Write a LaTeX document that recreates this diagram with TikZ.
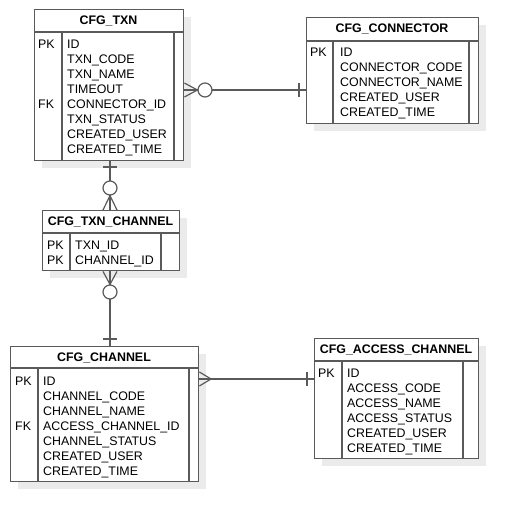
\documentclass[tikz,border=0pt]{standalone}
\usepackage{fontspec}
\setmainfont{Liberation Sans}
\usetikzlibrary{shadows}
\definecolor{linegray}{HTML}{5A5A5A}
\definecolor{shadowgray}{HTML}{EBEBEB}

\begin{document}
\begin{tikzpicture}[x=1pt, y=-1pt,
                    font=\fontsize{12.4}{15}\selectfont,
                    table/.style={draw=linegray, line width=1.4pt, fill=white, anchor=north west, inner sep=0pt,
                        drop shadow={shadow xshift=7pt, shadow yshift=-7pt, fill=shadowgray, opacity=1}},
                    rule/.style={draw=linegray, line width=1.4pt},
                    title/.style={font=\fontsize{12.4}{15}\selectfont\bfseries, anchor=base, inner sep=0pt},
                    cols/.style={align=left, anchor=north west, inner sep=0pt},
                    link/.style={draw=linegray, line width=1.2pt},
                    ring/.style={circle, draw=linegray, line width=1.2pt, fill=white, minimum size=14pt, inner sep=0pt}
                ]
    \useasboundingbox (0,0) rectangle (518,521);

    % CFG_TXN
    \node[table, minimum width=149pt, minimum height=151pt] (txn) at (34,9) {};
    \draw[rule] (34,32) -- (183,32) (62,32) -- (62,160) (174,32) -- (174,160);
    \node[title] (txn title) at (108.5,24.3) {CFG\_TXN};
    \node[cols] (txn keys) at (38,39.7) {PK\\~\\~\\~\\FK};
    \node[cols] (txn fields) at (67,39.7) {ID\\TXN\_CODE\\TXN\_NAME\\TIMEOUT\\CONNECTOR\_ID\\TXN\_STATUS\\CREATED\_USER\\CREATED\_TIME};

    % CFG_CONNECTOR
    \node[table, minimum width=172pt, minimum height=106pt] (connector) at (306,17) {};
    \draw[rule] (306,41) -- (478,41) (333,41) -- (333,123) (469,41) -- (469,123);
    \node[title] (connector title) at (392,33) {CFG\_CONNECTOR};
    \node[cols] (connector keys) at (310,48.1) {PK};
    \node[cols] (connector fields) at (340,48.1) {ID\\CONNECTOR\_CODE\\CONNECTOR\_NAME\\CREATED\_USER\\CREATED\_TIME};

    % CFG_TXN_CHANNEL
    \node[table, minimum width=137pt, minimum height=60pt] (txnchannel) at (42,210) {};
    \draw[rule] (42,233) -- (179,233) (70,233) -- (70,270) (161,233) -- (161,270);
    \node[title] (txnchannel title) at (110.5,225) {CFG\_TXN\_CHANNEL};
    \node[cols] (txnchannel keys) at (47,241.1) {PK\\PK};
    \node[cols] (txnchannel fields) at (75,241.1) {TXN\_ID\\CHANNEL\_ID};

    % CFG_CHANNEL
    \node[table, minimum width=188pt, minimum height=135pt] (channel) at (10,346) {};
    \draw[rule] (10,368) -- (198,368) (38,368) -- (38,481) (189,368) -- (189,481);
    \node[title] (channel title) at (104,361) {CFG\_CHANNEL};
    \node[cols] (channel keys) at (15,376.4) {PK\\~\\~\\FK};
    \node[cols] (channel fields) at (43,376.4) {ID\\CHANNEL\_CODE\\CHANNEL\_NAME\\ACCESS\_CHANNEL\_ID\\CHANNEL\_STATUS\\CREATED\_USER\\CREATED\_TIME};

    % CFG_ACCESS_CHANNEL
    \node[table, minimum width=164pt, minimum height=120pt] (access) at (314,338) {};
    \draw[rule] (314,361) -- (478,361) (342,361) -- (342,458) (463,361) -- (463,458);
    \node[title] (access title) at (396,353) {CFG\_ACCESS\_CHANNEL};
    \node[cols] (access keys) at (318,368.4) {PK};
    \node[cols] (access fields) at (347,368.4) {ID\\ACCESS\_CODE\\ACCESS\_NAME\\ACCESS\_STATUS\\CREATED\_USER\\CREATED\_TIME};

    % txn -- connector
    \draw[link] (txn.east |- 0,90) -- (connector.west |- 0,90);
    \node[ring] (r1) at (205,90) {};
    \draw[link] (txn.east |- 0,83) -- (r1.west) -- (txn.east |- 0,97);
    \draw[link] (299,83) -- (299,97);

    % txn -- txnchannel
    \draw[link] (110,0 |- txn.south) -- (110,0 |- txnchannel.north);
    \node[ring] (r2) at (110,188) {};
    \draw[link] (103,0 |- txnchannel.north) -- (r2.south) -- (117,0 |- txnchannel.north);
    \draw[link] (103,167) -- (117,167);

    % txnchannel -- channel
    \draw[link] (110,0 |- txnchannel.south) -- (110,0 |- channel.north);
    \node[ring] (r3) at (110,292) {};
    \draw[link] (103,0 |- txnchannel.south) -- (r3.north) -- (117,0 |- txnchannel.south);
    \draw[link] (103,339) -- (117,339);

    % channel -- access
    \draw[link] (channel.east |- 0,379) -- (access.west |- 0,379);
    \coordinate (foot4) at (211,379);
    \draw[link] (channel.east |- 0,372) -- (foot4) -- (channel.east |- 0,386);
    \draw[link] (307,372) -- (307,386);
\end{tikzpicture}
\end{document}
